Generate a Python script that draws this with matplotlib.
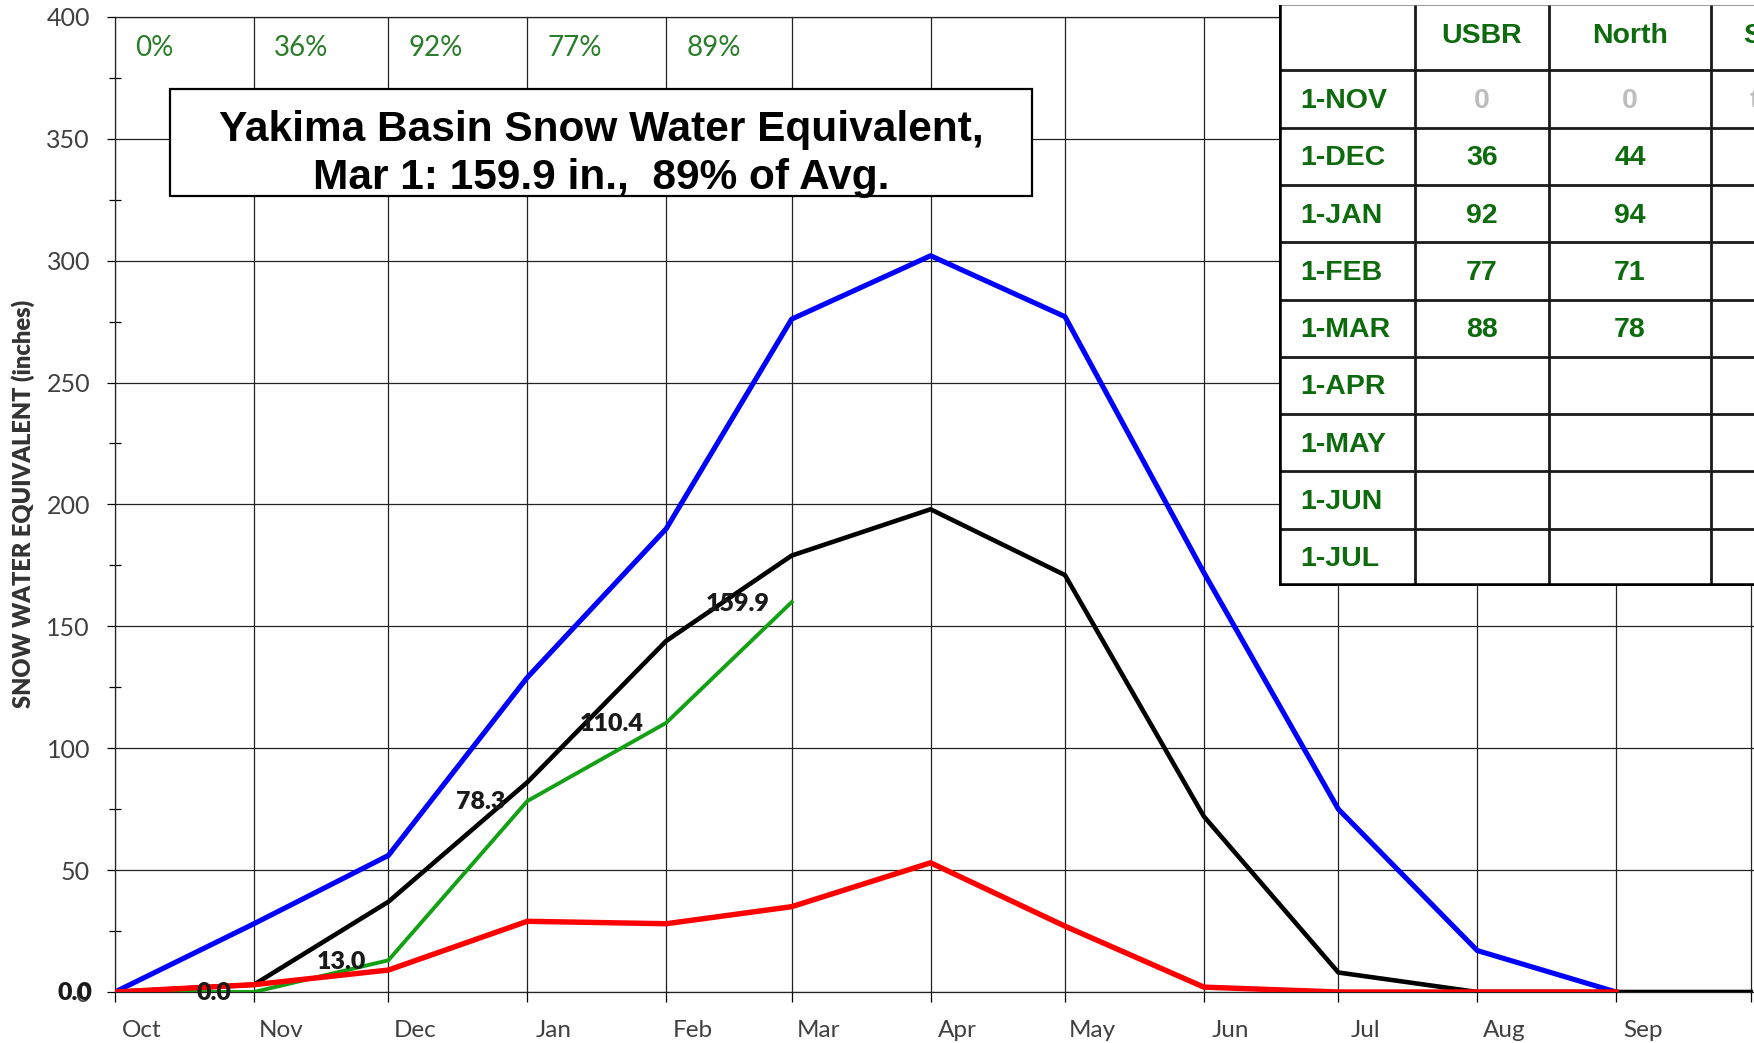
import numpy as np
import pandas as pd
import matplotlib
matplotlib.use('Agg')
import matplotlib.pyplot as plt
import matplotlib.dates as mdates
from matplotlib.patches import Rectangle
from matplotlib.ticker import MultipleLocator, NullFormatter

# water year 2021, first of each month (Oct 1 .. next Oct 1)
months = pd.date_range('2020-10-01', '2021-10-01', freq='MS')

swe_max = [0, 28, 56, 129, 190, 276, 302, 277, 172, 75, 17, 0]
swe_avg = [0, 3, 37, 86, 144, 179, 198, 171, 72, 8, 0, 0, 0]
swe_min = [0, 3, 9, 29, 28, 35, 53, 27, 2, 0, 0, 0]
swe_cur = [0.0, 0.0, 13.0, 78.3, 110.4, 159.9]
pct_avg = ['0%', '36%', '92%', '77%', '89%']

tbl_cols = ['', 'USBR', 'North', 'South']
tbl_rows = ['1-NOV', '1-DEC', '1-JAN', '1-FEB', '1-MAR', '1-APR', '1-MAY', '1-JUN', '1-JUL']
tbl_usbr = ['0', '36', '92', '77', '88', '', '', '', '']
tbl_north = ['0', '44', '94', '71', '78', '', '', '', '']
tbl_south = ['trace', '', '', '', '', '', '', '', '']

GREEN_TXT = '#0d6b0d'
GREEN_PCT = '#2a7d2a'
GRAY_TXT = '#bdbdbd'
TICK_CLR = '#404040'


def draw_chart(fig):
    ax = fig.add_axes([115 / 1754, 51 / 1043, 1 - 115 / 1754, 975.2 / 1043])

    ax.plot(months[:12], swe_max, color='#0000ff', lw=3.7, zorder=3)
    ax.plot(months, swe_avg, color='black', lw=3.3, zorder=4)
    ax.plot(months[:6], swe_cur, color='#14a014', lw=2.8, zorder=5)
    ax.plot(months[:12], swe_min, color='#ff0000', lw=3.9, zorder=6)

    for d, v in zip(months[:6], swe_cur):
        ax.annotate(f'{v:.1f}', (d, v), xytext=(-16, -1), textcoords='offset points',
                    ha='right', va='center', fontsize=18, fontweight='heavy',
                    family='Lato', color='#1a1a1a', zorder=7, annotation_clip=False)

    for m, p in zip(months[:5], pct_avg):
        ax.text(m + pd.Timedelta(days=4.5), 387.0, p, ha='left', va='center',
                fontsize=20, family='Lato', color=GREEN_PCT)

    ax.set_xlim(months[0], months[-1] + pd.Timedelta(days=0.76))
    ax.set_ylim(0, 400)

    ax.xaxis.set_major_locator(mdates.MonthLocator())
    ax.xaxis.set_major_formatter(NullFormatter())
    ax.xaxis.set_minor_locator(mdates.MonthLocator(bymonthday=7))
    ax.xaxis.set_minor_formatter(mdates.DateFormatter('%b'))
    ax.tick_params(axis='x', which='major', direction='out', length=7, width=0.9)
    ax.tick_params(axis='x', which='minor', length=0, pad=20,
                   labelsize=17.5, labelcolor=TICK_CLR)

    ax.yaxis.set_major_locator(MultipleLocator(50))
    ax.yaxis.set_minor_locator(MultipleLocator(25))
    ax.tick_params(axis='y', which='major', direction='out', length=6, width=0.9,
                   pad=12, labelsize=18, labelcolor=TICK_CLR)
    ax.tick_params(axis='y', which='minor', direction='inout', length=9, width=0.9)
    for lab in ax.get_xticklabels(minor=True) + ax.get_yticklabels():
        lab.set_family('Lato')

    ax.grid(which='major', color='#222222', lw=0.9)
    ax.spines['right'].set_visible(False)
    for s in ['left', 'bottom', 'top']:
        ax.spines[s].set_color('#222222')
        ax.spines[s].set_linewidth(0.9)

    ax.set_ylabel('SNOW WATER EQUIVALENT (inches)', fontsize=17, fontweight='heavy',
                  family='Lato', color='#333333')
    ax.yaxis.set_label_coords(-0.049, 0.5)

    # title box
    fig.add_artist(Rectangle((170 / 1754, (1043 - 196) / 1043), 862 / 1754, 107 / 1043,
                             transform=fig.transFigure, facecolor='white',
                             edgecolor='black', lw=1.6, zorder=8))
    fig.text(601 / 1754, (1043 - 154) / 1043,
             'Yakima Basin Snow Water Equivalent,\nMar 1: 159.9 in.,  89% of Avg.',
             ha='center', va='center', fontsize=30.5, fontweight='bold',
             family='Liberation Sans', linespacing=1.25, zorder=9)
    return ax


def draw_table(fig):
    col_w = [136, 134, 162, 146]
    row_h = [65] + [57.3] * len(tbl_rows)
    xe = np.concatenate([[0], np.cumsum(col_w)])
    ye = np.concatenate([[0], np.cumsum(row_h)])
    W, H = xe[-1], ye[-1]

    ax = fig.add_axes([1279 / 1754, (1043 - 586) / 1043, W / 1754, H / 1043])
    ax.set_xlim(0, W)
    ax.set_ylim(H, 0)
    ax.set_axis_off()
    ax.add_patch(Rectangle((0, 0), W, H, facecolor='white', edgecolor='none'))

    ax.hlines(ye[1:-1], 0, W, color='#1a1a1a', lw=2)
    ax.hlines(ye[0], 0, W, color='#888888', lw=1.2)
    ax.vlines(xe[1:-1], 0, H, color='#1a1a1a', lw=2)
    ax.vlines(0, 0, H + 2, color='black', lw=4)
    ax.hlines(H, 0, W, color='black', lw=4)

    fs = 20.5
    for j, c in enumerate(tbl_cols):
        ax.text((xe[j] + xe[j + 1]) / 2, (ye[0] + ye[1]) / 2 - 2, c, ha='center', va='center',
                fontsize=fs, fontweight='bold', family='Liberation Sans', color=GREEN_TXT)
    for i, r in enumerate(tbl_rows):
        yc = (ye[i + 1] + ye[i + 2]) / 2 + 2
        ax.text(xe[0] + 21, yc, r, ha='left', va='center', fontsize=fs,
                fontweight='bold', family='Liberation Sans', color=GREEN_TXT)
        clr = GRAY_TXT if i == 0 else GREEN_TXT
        for j, vals in enumerate([tbl_usbr, tbl_north, tbl_south], start=1):
            ax.text((xe[j] + xe[j + 1]) / 2, yc, vals[i], ha='center', va='center',
                    fontsize=fs, fontweight='bold', family='Liberation Sans', color=clr)


def main():
    fig = plt.figure(figsize=(17.54, 10.43), dpi=100)
    draw_chart(fig)
    draw_table(fig)
    fig.savefig('out.png', dpi=100, facecolor='white')


if __name__ == '__main__':
    main()
